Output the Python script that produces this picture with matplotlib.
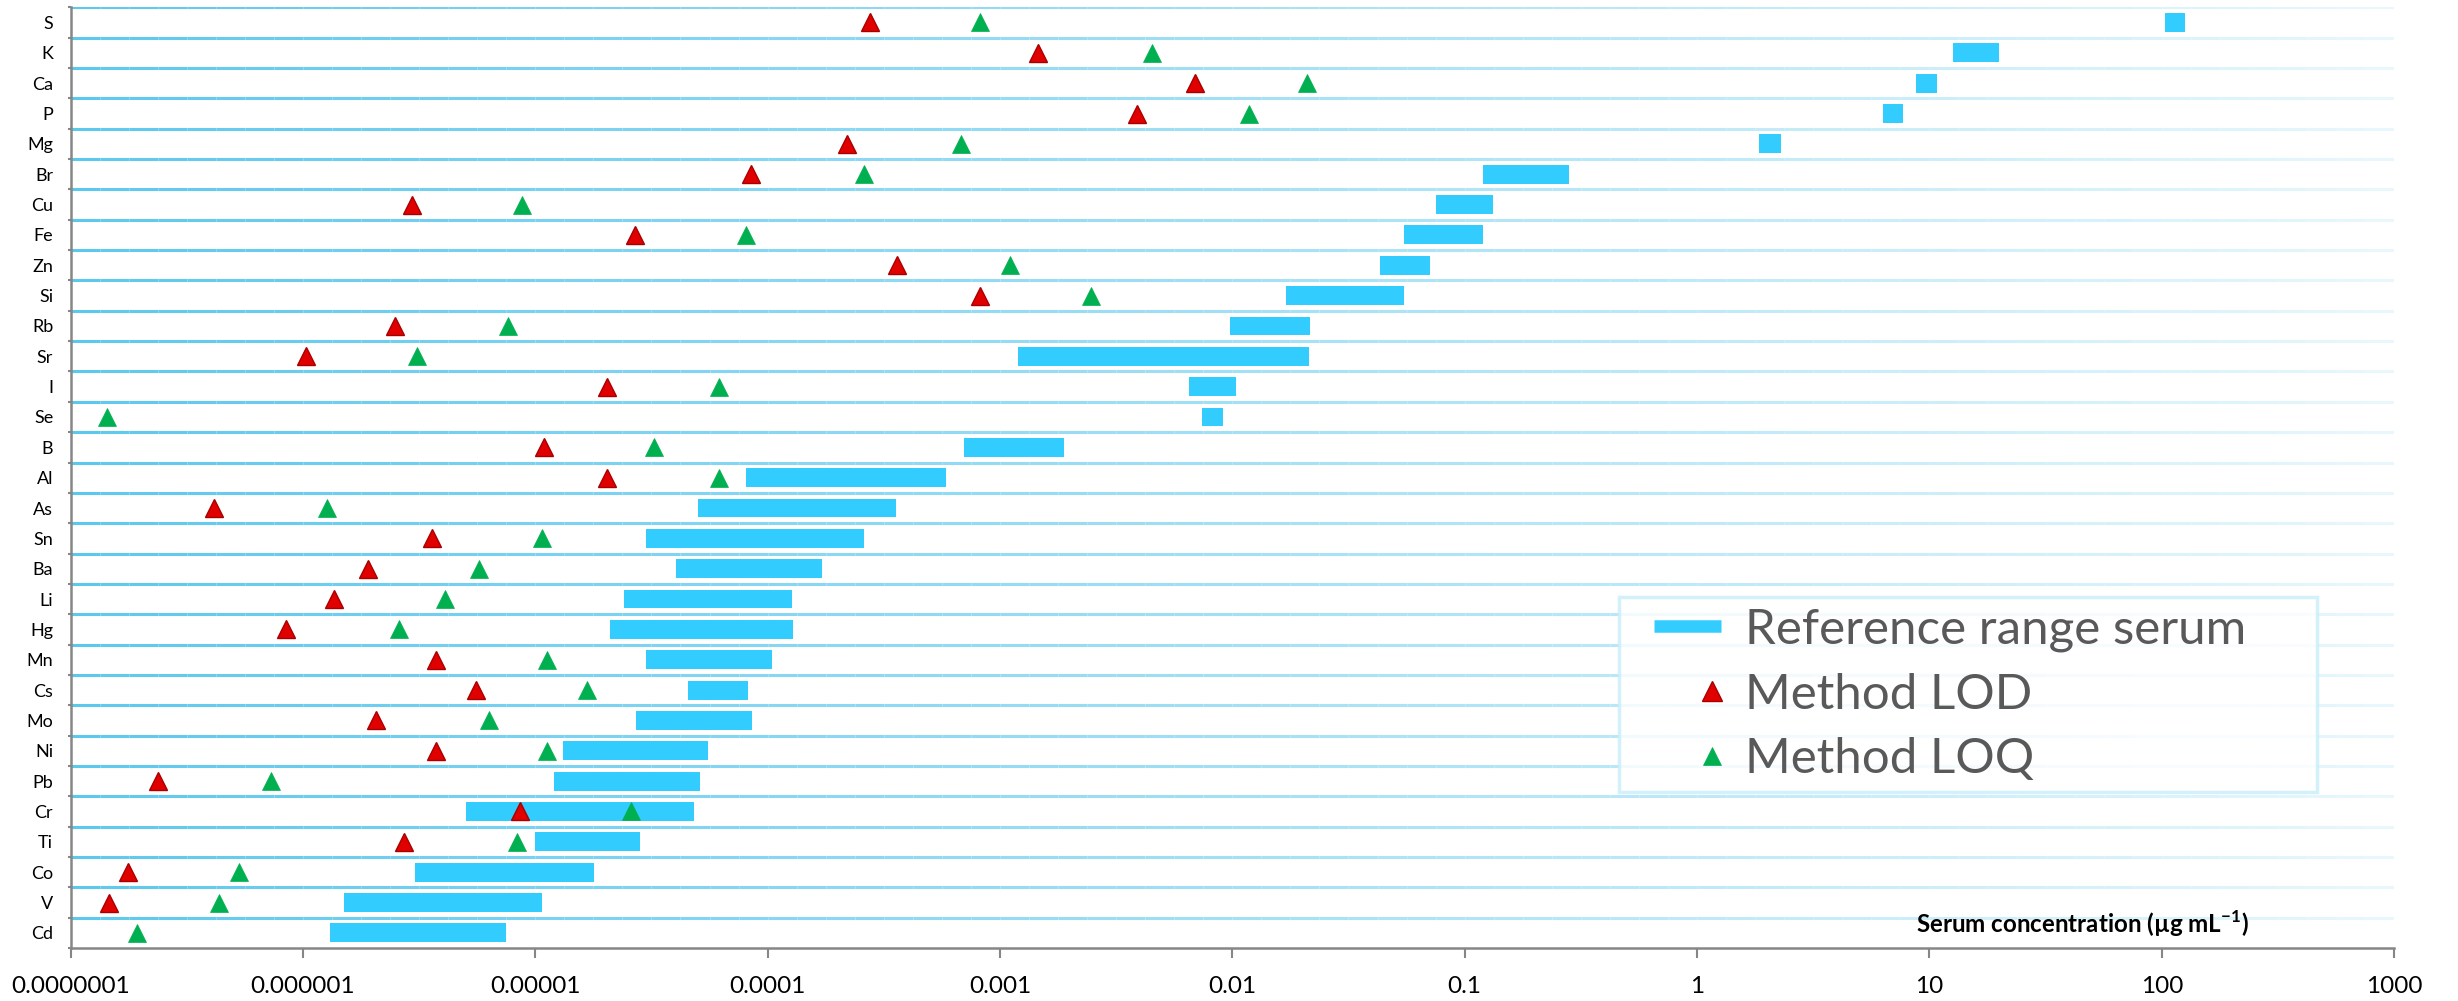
import numpy as np
import matplotlib
matplotlib.use('Agg')
import matplotlib.pyplot as plt
from matplotlib.collections import LineCollection
from matplotlib.lines import Line2D
from matplotlib.legend_handler import HandlerBase
import matplotlib.transforms as mtransforms
from matplotlib.colors import to_rgb
from matplotlib.ticker import FixedLocator, FixedFormatter, NullLocator

plt.rcParams['font.family'] = ['Lato', 'DejaVu Sans']
plt.rcParams['mathtext.fontset'] = 'custom'
plt.rcParams['mathtext.rm'] = 'Lato'
plt.rcParams['mathtext.bf'] = 'Lato:bold'

elements = ['S', 'K', 'Ca', 'P', 'Mg', 'Br', 'Cu', 'Fe', 'Zn', 'Si', 'Rb', 'Sr', 'I', 'Se',
            'B', 'Al', 'As', 'Sn', 'Ba', 'Li', 'Hg', 'Mn', 'Cs', 'Mo', 'Ni', 'Pb', 'Cr',
            'Ti', 'Co', 'V', 'Cd']
lod = [2.76e-4, 1.46e-3, 6.9e-3, 3.9e-3, 2.2e-4, 8.5e-5, 2.95e-6, 2.7e-5, 3.6e-4, 8.2e-4,
       2.5e-6, 1.03e-6, 2.04e-5, np.nan, 1.09e-5, 2.04e-5, 4.15e-7, 3.59e-6, 1.91e-6,
       1.36e-6, 8.47e-7, 3.74e-6, 5.54e-6, 2.07e-6, 3.74e-6, 2.39e-7, 8.57e-6, 2.72e-6,
       1.77e-7, 1.46e-7, np.nan]
loq = [8.2e-4, 4.5e-3, 0.021, 0.0118, 6.8e-4, 2.6e-4, 8.8e-6, 8.1e-5, 1.11e-3, 2.46e-3,
       7.6e-6, 3.09e-6, 6.15e-5, 1.44e-7, 3.25e-5, 6.15e-5, 1.27e-6, 1.07e-5, 5.72e-6,
       4.08e-6, 2.59e-6, 1.12e-5, 1.67e-5, 6.31e-6, 1.12e-5, 7.3e-7, 2.58e-5, 8.34e-6,
       5.32e-7, 4.37e-7, 1.94e-7]
ref_low = [103, 12.6, 8.8, 6.3, 1.85, 0.12, 0.075, 0.055, 0.043, 0.017,
           0.0098, 0.0012, 0.0065, 0.0074, 7.0e-4, 8.05e-5, 5.0e-5, 3.0e-5, 4.05e-5,
           2.41e-5, 2.1e-5, 3.0e-5, 4.55e-5, 2.72e-5, 1.31e-5, 1.2e-5, 5.05e-6, 1.0e-5,
           3.03e-6, 1.51e-6, 1.31e-6]
ref_high = [126, 19.9, 10.8, 7.7, 2.3, 0.28, 0.132, 0.12, 0.071, 0.055,
            0.0217, 0.0213, 0.0104, 0.0091, 1.89e-3, 5.85e-4, 3.57e-4, 2.59e-4, 1.71e-4,
            1.27e-4, 1.29e-4, 1.04e-4, 8.22e-5, 8.57e-5, 5.55e-5, 5.1e-5, 4.82e-5, 2.83e-5,
            1.79e-5, 1.07e-5, 7.48e-6]
xtick_values = [1e-7, 1e-6, 1e-5, 1e-4, 1e-3, 1e-2, 1e-1, 1, 10, 100, 1000]
xtick_labels = ['0.0000001', '0.000001', '0.00001', '0.0001', '0.001', '0.01', '0.1',
                '1', '10', '100', '1000']
legend_labels = ['Reference range serum', 'Method LOD', 'Method LOQ']

BAR = '#33ccff'
RED = '#e00000'
RED_EDGE = '#a80000'
GREEN = '#00b050'
AXIS_GREY = '#868686'

fig = plt.figure(figsize=(24.58, 10.01), dpi=100)
ax = fig.add_axes([0.0287, 0.0529, 0.9453, 0.9398])

y = np.arange(len(elements))
low = np.array(ref_low)
high = np.array(ref_high)
ax.barh(y, high - low, left=low, height=0.62, color=BAR, zorder=3)
ax.plot(lod, y, linestyle='none', marker='^', markersize=13.5, color=RED,
        markeredgecolor=RED_EDGE, markeredgewidth=1, zorder=4)
ax.plot(loq, y, linestyle='none', marker='^', markersize=12.8, color=GREEN,
        markeredgecolor=GREEN, markeredgewidth=0.5, zorder=4)

ax.set_xscale('log')
ax.set_xlim(1e-7, 1000)
ax.set_ylim(len(elements) - 0.5, -0.5)

# gradient gridlines at category boundaries
c0 = np.array(to_rgb('#5cc8ee'))
c1 = np.array(to_rgb('#e8f7fc'))
n = 80
xs = np.linspace(0, 1, n + 1)
segs, cols = [], []
for b in np.arange(-0.5, len(elements) - 0.5, 1.0):
    for i in range(n):
        segs.append([(xs[i], b), (xs[i + 1], b)])
        t = (xs[i] + xs[i + 1]) / 2
        cols.append(c0 * (1 - t) + c1 * t)
trans = mtransforms.blended_transform_factory(ax.transAxes, ax.transData)
lc = LineCollection(segs, colors=cols, linewidths=2.2, transform=trans, zorder=1)
ax.add_collection(lc)

for s in ['top', 'right']:
    ax.spines[s].set_visible(False)
for s in ['left', 'bottom']:
    ax.spines[s].set_color(AXIS_GREY)
    ax.spines[s].set_linewidth(1.8)

ax.xaxis.set_major_locator(FixedLocator(xtick_values))
ax.xaxis.set_major_formatter(FixedFormatter(xtick_labels))
ax.xaxis.set_minor_locator(NullLocator())
ax.tick_params(axis='x', which='major', length=7, width=1.5, color=AXIS_GREY,
               labelsize=17.5, labelcolor='#000000', pad=13)

ax.set_yticks(y)
ax.set_yticklabels(elements)
ax.yaxis.set_minor_locator(FixedLocator(np.arange(-0.5, len(elements), 1.0)))
ax.tick_params(axis='y', which='major', length=0, labelsize=13, pad=12.5)
ax.tick_params(axis='y', which='minor', length=2.5, width=1.5, color=AXIS_GREY)

ax.text(0.866, 0.016, r'Serum concentration (µg mL$^{\mathbf{-1}}$)', transform=ax.transAxes,
        fontsize=17.4, fontweight='bold', ha='center', va='baseline', zorder=5)


class BarHandler(HandlerBase):
    def create_artists(self, legend, orig_handle, xdescent, ydescent, width, height,
                       fontsize, trans):
        yc = height / 2 - ydescent
        line = Line2D([width * 0.275 - xdescent, width - xdescent], [yc, yc],
                      color=orig_handle.get_color(), linewidth=orig_handle.get_linewidth(),
                      solid_capstyle='butt')
        line.set_transform(trans)
        return [line]


class RightMarkerHandler(HandlerBase):
    def create_artists(self, legend, orig_handle, xdescent, ydescent, width, height,
                       fontsize, trans):
        line = Line2D([width * 0.91 - xdescent], [height / 2 - ydescent],
                      linestyle='none', marker=orig_handle.get_marker(),
                      markersize=orig_handle.get_markersize(),
                      markerfacecolor=orig_handle.get_markerfacecolor(),
                      markeredgecolor=orig_handle.get_markeredgecolor(),
                      markeredgewidth=orig_handle.get_markeredgewidth())
        line.set_transform(trans)
        return [line]


h_bar = Line2D([], [], color=BAR, linewidth=9, solid_capstyle='butt')
h_lod = Line2D([], [], linestyle='none', marker='^', markersize=14, color=RED,
               markeredgecolor=RED_EDGE, markeredgewidth=1)
h_loq = Line2D([], [], linestyle='none', marker='^', markersize=12.5, color=GREEN,
               markeredgecolor=GREEN, markeredgewidth=0.5)
bx0 = 1619 / 2458
bx1 = 2317 / 2458
by1 = 1 - 597 / 1001
by0 = 1 - 793 / 1001
leg = fig.legend([h_bar, h_lod, h_loq], legend_labels,
                 handler_map={h_bar: BarHandler(), h_lod: RightMarkerHandler(),
                              h_loq: RightMarkerHandler()},
                 loc='upper left', bbox_to_anchor=(bx0, by0, bx1 - bx0, by1 - by0),
                 bbox_transform=fig.transFigure, mode='expand',
                 borderaxespad=0, fontsize=35.5, frameon=True, fancybox=False,
                 handlelength=1.85, handletextpad=0.5, labelspacing=0.42,
                 borderpad=0.21, labelcolor='#595959')
leg.get_frame().set_edgecolor('#c9eef9')
leg.get_frame().set_linewidth(2.5)
leg.set_zorder(10)

fig.savefig('out.png', dpi=100, facecolor='white')
